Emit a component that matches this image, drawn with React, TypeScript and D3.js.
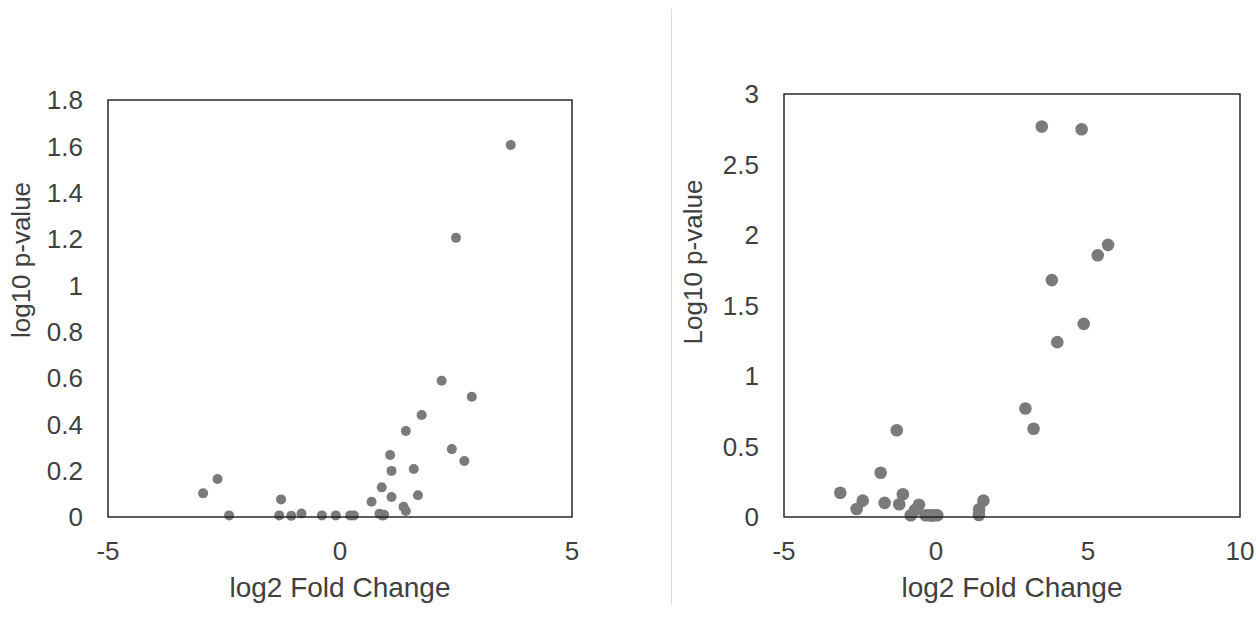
import React from "react";
import * as d3 from "d3";

// Left chart data: log2 fold change vs log10 p-value
const leftX = [3.68, 2.5, 2.19, 2.84, 1.76, 1.42, 1.08, 2.41, 2.68, 1.11, 1.59, -2.64, -2.95, 0.9, 1.68, 1.11, -1.27, 0.68, 1.37, 1.42, -2.39, -1.31, -1.05, -0.83, -0.39, -0.09, 0.22, 0.3, 0.85, 0.95, 0.92];
const leftY = [1.606, 1.205, 0.588, 0.519, 0.44, 0.371, 0.268, 0.293, 0.242, 0.199, 0.207, 0.164, 0.102, 0.128, 0.094, 0.086, 0.076, 0.066, 0.044, 0.026, 0.007, 0.007, 0.005, 0.015, 0.007, 0.007, 0.007, 0.007, 0.014, 0.01, 0.006];

// Right chart data
const rightX = [3.48, 4.79, 5.66, 5.32, 3.81, 4.86, 3.99, 2.94, 3.21, -1.29, -1.82, -3.15, -2.41, -2.61, -1.69, -1.09, -1.21, -0.56, -0.83, -0.69, -0.34, -0.14, 0.04, 1.56, 1.42, 1.41, -0.2, -0.05];
const rightY = [2.77, 2.75, 1.93, 1.856, 1.68, 1.37, 1.24, 0.77, 0.626, 0.615, 0.314, 0.172, 0.116, 0.057, 0.1, 0.161, 0.09, 0.087, 0.012, 0.05, 0.012, 0.01, 0.012, 0.116, 0.055, 0.014, 0.012, 0.012];

const leftXTicks = [-5, 0, 5];
const leftYTicks = [0, 0.2, 0.4, 0.6, 0.8, 1, 1.2, 1.4, 1.6, 1.8];
const rightXTicks = [-5, 0, 5, 10];
const rightYTicks = [0, 0.5, 1, 1.5, 2, 2.5, 3];

const FONT = "'Liberation Sans', Arial, sans-serif";
const TEXT = "#404040";
const DOT = "#7a7a7a";

type PanelProps = {
  xs: number[];
  ys: number[];
  xDomain: [number, number];
  yDomain: [number, number];
  xTicks: number[];
  yTicks: number[];
  box: { x0: number; x1: number; y0: number; y1: number };
  r: number;
  yTitle: string;
  yTitleX: number;
  yTitleY: number;
  yTitleSize: number;
};

function Panel(p: PanelProps) {
  const x = d3.scaleLinear().domain(p.xDomain).range([p.box.x0, p.box.x1]);
  const y = d3.scaleLinear().domain(p.yDomain).range([p.box.y1, p.box.y0]);
  const cx = (p.box.x0 + p.box.x1) / 2;
  return (
    <g>
      {p.xs.map((v, i) => (
        <circle key={i} cx={x(v)} cy={y(p.ys[i])} r={p.r} fill={DOT} />
      ))}
      <rect
        x={p.box.x0}
        y={p.box.y0}
        width={p.box.x1 - p.box.x0}
        height={p.box.y1 - p.box.y0}
        fill="none"
        stroke="#1a1a1a"
        strokeWidth={1.4}
      />
      {p.yTicks.map((t) => (
        <text
          key={"y" + t}
          x={p.box.x0 - 25}
          y={y(t) + 9.3}
          textAnchor="end"
          fontSize={26}
          fontFamily={FONT}
          fill={TEXT}
        >
          {String(t)}
        </text>
      ))}
      {p.xTicks.map((t) => (
        <text
          key={"x" + t}
          x={x(t)}
          y={560}
          textAnchor="middle"
          fontSize={26}
          fontFamily={FONT}
          fill={TEXT}
        >
          {String(t)}
        </text>
      ))}
      <text
        x={cx}
        y={597}
        textAnchor="middle"
        fontSize={28}
        fontFamily={FONT}
        fill={TEXT}
      >
        log2 Fold Change
      </text>
      <text
        transform={`translate(${p.yTitleX},${p.yTitleY}) rotate(-90)`}
        textAnchor="middle"
        fontSize={p.yTitleSize}
        fontFamily={FONT}
        fill={TEXT}
      >
        {p.yTitle}
      </text>
    </g>
  );
}

export default function App() {
  return (
    <svg
      width={1256}
      height={617}
      style={{ position: "absolute", left: 0, top: 0, background: "#fff" }}
    >
      <rect x={0} y={0} width={1256} height={617} fill="#fff" />
      <line x1={671.5} x2={671.5} y1={9} y2={605} stroke="#d9d9d9" strokeWidth={1} />
      <Panel
        xs={leftX}
        ys={leftY}
        xDomain={[-5, 5]}
        yDomain={[0, 1.8]}
        xTicks={leftXTicks}
        yTicks={leftYTicks}
        box={{ x0: 108, x1: 572, y0: 100, y1: 517 }}
        r={5}
        yTitle="log10 p-value"
        yTitleX={30}
        yTitleY={260}
        yTitleSize={26}
      />
      <Panel
        xs={rightX}
        ys={rightY}
        xDomain={[-5, 10]}
        yDomain={[0, 3]}
        xTicks={rightXTicks}
        yTicks={rightYTicks}
        box={{ x0: 784, x1: 1240, y0: 94, y1: 517 }}
        r={6.3}
        yTitle="Log10 p-value"
        yTitleX={702}
        yTitleY={262}
        yTitleSize={26}
      />
    </svg>
  );
}
